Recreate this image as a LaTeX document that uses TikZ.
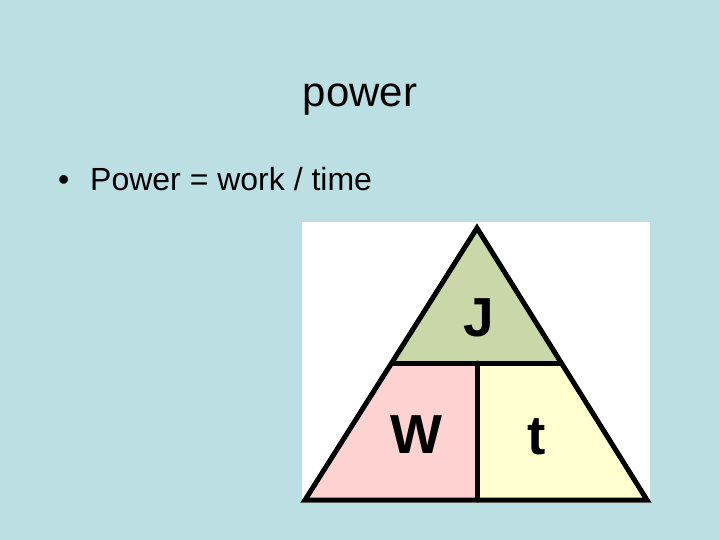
\documentclass[tikz,border=0pt]{standalone}
\usepackage{fontspec}
\setmainfont{Liberation Sans}
\definecolor{bgblue}{HTML}{BBDFE3}
\definecolor{topgreen}{HTML}{C9D7A9}
\definecolor{leftpink}{HTML}{FFD2D2}
\definecolor{rightyellow}{HTML}{FFFFCF}
\begin{document}
\begin{tikzpicture}[x=1pt,y=-1pt,
  edge/.style={line width=5pt,line join=miter,line cap=round},
  bigtext/.style={anchor=base,inner sep=0pt,font=\fontsize{55}{60}\selectfont\bfseries}]
\useasboundingbox (0,0) rectangle (720,540);
\fill[bgblue] (0,0) rectangle (720,540);
% title and bullet
\node[anchor=base,inner sep=0pt,font=\fontsize{42}{48}\selectfont] (title) at (360,107) {power};
\node[anchor=base west,inner sep=0pt,font=\fontsize{32}{38}\selectfont] (bullet) at (58,191) {\textbullet};
\node[anchor=base west,inner sep=0pt,font=\fontsize{32}{38}\selectfont] (eq) at (90,191) {Power = work / time};
% picture
\fill[white] (302,222) rectangle (650,503);
\coordinate (apex) at (477,228);
\coordinate (bl) at (305,500);
\coordinate (br) at (647,500);
\coordinate (ml) at (391.6,363);
\coordinate (mr) at (561.4,363);
\coordinate (mc) at (477,363);
\coordinate (bc) at (477,500);
\fill[topgreen] (apex) -- (ml) -- (mr) -- cycle;
\fill[leftpink] (ml) -- (mc) -- (bc) -- (bl) -- cycle;
\fill[rightyellow] (mc) -- (mr) -- (br) -- (bc) -- cycle;
\draw[edge] (apex) -- (bl) -- (br) -- cycle;
\draw[edge] (ml) -- (mr);
\draw[edge] (mc) -- (bc);
\node[bigtext] (J) at (479,336) {J};
\node[bigtext] (W) at (416,453) {W};
\node[bigtext] (t) at (537,454) {t};
\end{tikzpicture}
\end{document}
